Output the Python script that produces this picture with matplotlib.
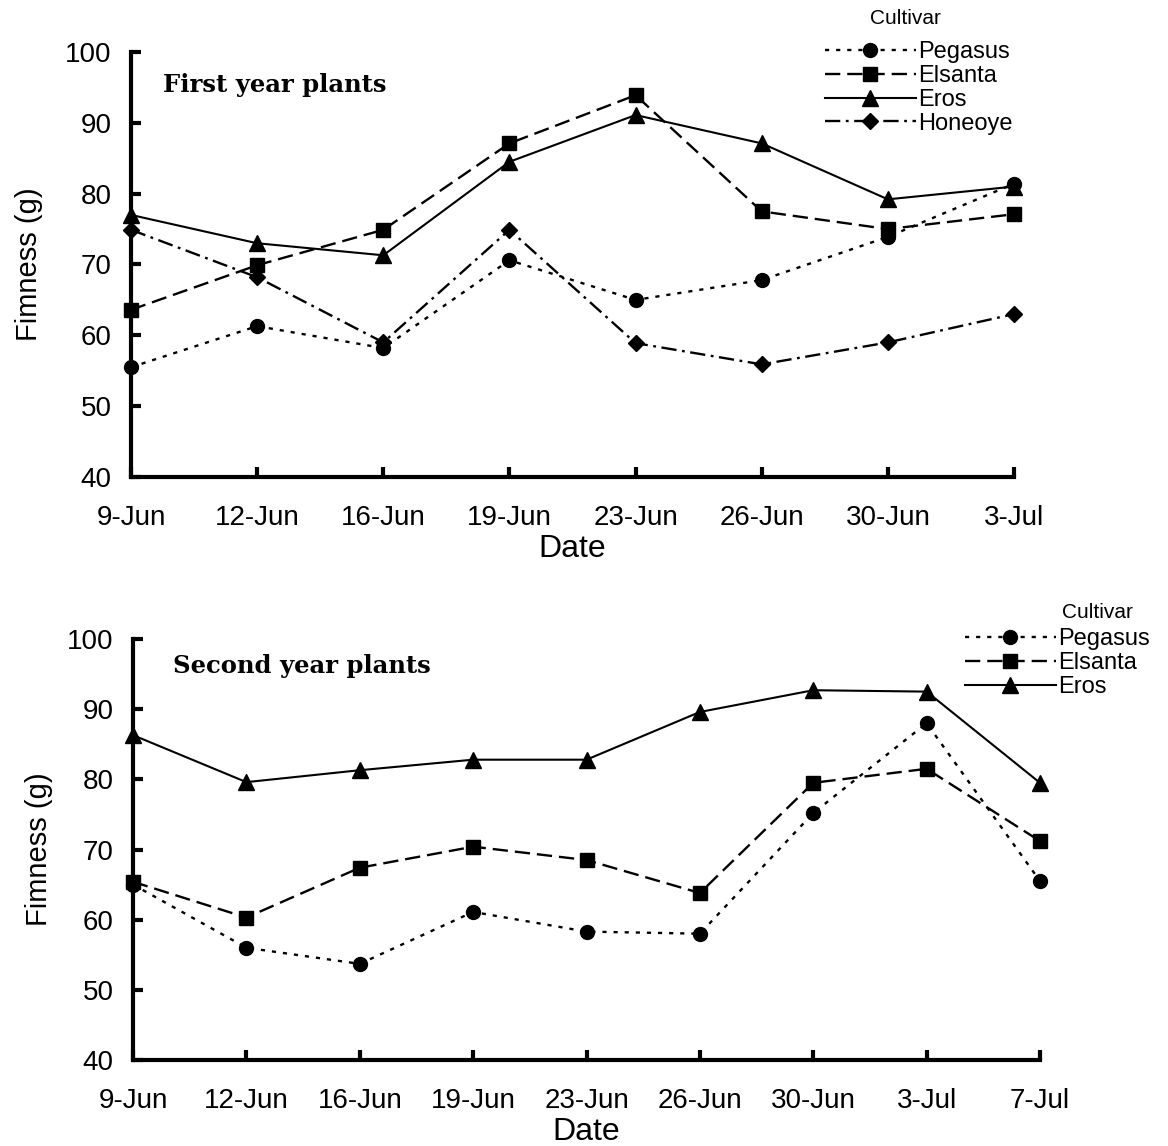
import matplotlib
matplotlib.use("Agg")
import matplotlib.pyplot as plt
from matplotlib.lines import Line2D

plt.rcParams['font.family'] = ['Liberation Sans', 'DejaVu Sans']
plt.rcParams['lines.scale_dashes'] = False

# ---- data ----
dates1 = ["9-Jun", "12-Jun", "16-Jun", "19-Jun", "23-Jun", "26-Jun", "30-Jun", "3-Jul"]
pegasus1 = [55.5, 61.3, 58.2, 70.6, 65.0, 67.8, 73.9, 81.4]
elsanta1 = [63.6, 69.9, 74.9, 87.1, 93.9, 77.5, 75.0, 77.1]
eros1 = [77.0, 73.0, 71.3, 84.5, 91.1, 87.1, 79.2, 81.0]
honeoye1 = [74.9, 68.2, 59.0, 74.9, 58.9, 55.9, 59.0, 63.0]

dates2 = ["9-Jun", "12-Jun", "16-Jun", "19-Jun", "23-Jun", "26-Jun", "30-Jun", "3-Jul", "7-Jul"]
pegasus2 = [65.0, 56.0, 53.7, 61.1, 58.3, 58.0, 75.2, 88.0, 65.5]
elsanta2 = [65.4, 60.3, 67.4, 70.4, 68.5, 63.8, 79.5, 81.5, 71.2]
eros2 = [86.3, 79.6, 81.3, 82.8, 82.8, 89.6, 92.7, 92.5, 79.5]

yticks = [40, 50, 60, 70, 80, 90, 100]

styles = {
    "Pegasus": dict(marker="o", linestyle=(0, (3, 5)), lw=1.7, ms=10),
    "Elsanta": dict(marker="s", linestyle=(0, (11, 5)), lw=1.7, ms=10),
    "Eros": dict(marker="^", linestyle="-", lw=1.5, ms=11),
    "Honeoye": dict(marker="D", linestyle=(0, (11, 4, 2, 4)), lw=1.7, ms=8),
}

W, H = 1168, 1146
fig = plt.figure(figsize=(W / 100, H / 100), dpi=100)


def px_axes(l, t, r, b):
    return fig.add_axes([l / W, 1 - b / H, (r - l) / W, (b - t) / H])


def style_axes(ax, cats, ylabelpad):
    ax.set_xlim(0, len(cats) - 1)
    ax.set_ylim(40, 100)
    ax.set_xticks(range(len(cats)))
    ax.set_xticklabels(cats, fontsize=20)
    ax.set_yticks(yticks)
    ax.set_yticklabels([str(v) for v in yticks], fontsize=20)
    for s in ("top", "right"):
        ax.spines[s].set_visible(False)
    for s in ("left", "bottom"):
        ax.spines[s].set_linewidth(3)
    ax.tick_params(direction="in", length=7, width=3)
    ax.tick_params(axis="x", pad=20)
    ax.tick_params(axis="y", pad=14)
    ax.set_xlabel("Date", fontsize=23, labelpad=2)
    ax.set_ylabel("Fimness (g)", fontsize=21, labelpad=ylabelpad)


def plot_series(ax, names, data):
    for name, vals in zip(names, data):
        st = styles[name]
        ax.plot(range(len(vals)), vals, color="black", marker=st["marker"],
                markersize=st["ms"], linestyle=st["linestyle"], lw=st["lw"],
                clip_on=False, label=name, zorder=3)


def make_legend(names, x, y, title_x, title_y):
    handles = []
    for name in names:
        st = styles[name]
        handles.append(Line2D([], [], color="black", marker=st["marker"], markersize=st["ms"],
                              linestyle=st["linestyle"], lw=st["lw"]))
    fig.legend(handles, names, loc="upper left", bbox_to_anchor=(x / W, 1 - y / H),
               frameon=False, fontsize=17, handlelength=3.85, handletextpad=0.08,
               labelspacing=0.08, borderpad=0, borderaxespad=0)
    fig.text(title_x / W, 1 - title_y / H, "Cultivar", fontsize=15, va="center", ha="left")


# top panel
ax1 = px_axes(131, 52, 1014, 477)
names1 = ["Pegasus", "Elsanta", "Eros", "Honeoye"]
plot_series(ax1, names1, [pegasus1, elsanta1, eros1, honeoye1])
style_axes(ax1, dates1, 16)
ax1.text(0.036, 0.922, "First year plants", transform=ax1.transAxes, fontsize=17.5,
         family="DejaVu Serif", fontweight="bold", va="center", ha="left")
make_legend(names1, 825, 41, 870, 19)

# bottom panel
ax2 = px_axes(133, 639, 1040, 1060)
names2 = ["Pegasus", "Elsanta", "Eros"]
plot_series(ax2, names2, [pegasus2, elsanta2, eros2])
style_axes(ax2, dates2, 10)
ax2.text(0.044, 0.936, "Second year plants", transform=ax2.transAxes, fontsize=17.5,
         family="DejaVu Serif", fontweight="bold", va="center", ha="left")
make_legend(names2, 965, 628, 1062, 613)

fig.savefig("out.png", dpi=100)
